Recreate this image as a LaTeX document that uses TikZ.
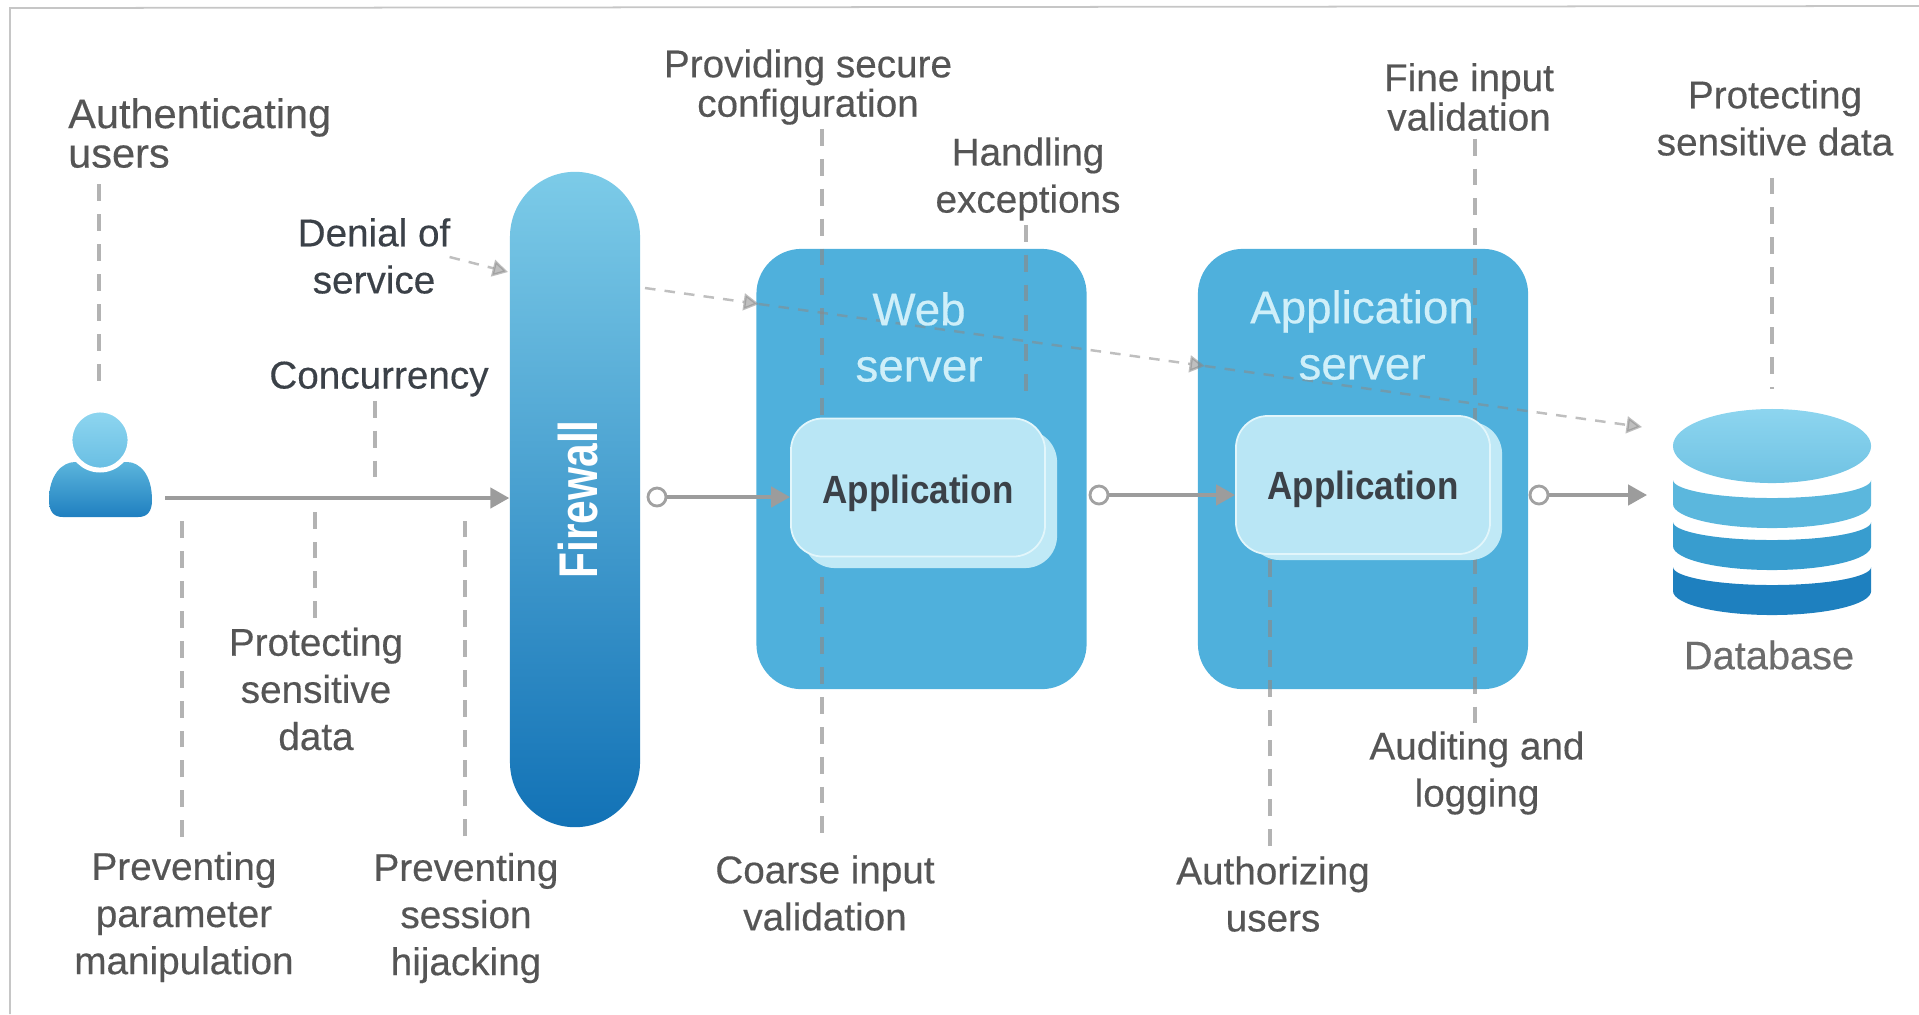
\documentclass[tikz,border=0pt]{standalone}
\usepackage{fontspec}
\setmainfont[FakeBold=.35]{Liberation Sans}
\newfontfamily\fwfont[FakeStretch=.78]{Liberation Sans}
\newfontfamily\appfont[FakeStretch=.89]{Liberation Sans}
\usetikzlibrary{arrows.meta}
\definecolor{textgray}{HTML}{555555}
\definecolor{textdark}{HTML}{3B4148}
\definecolor{srvblue}{HTML}{4FB0DC}
\definecolor{guidegray}{HTML}{8A8A8A}
\tikzset{
lbl/.style={align=center,inner sep=1pt,text=textgray,font=\fontsize{11}{11.2}\selectfont},
lblwide/.style={lbl,font=\fontsize{11}{13.4}\selectfont},
lbldark/.style={text=textdark},
srvbox/.style={fill=srvblue,rounded corners=.45cm,minimum width=3.3cm,minimum height=4.4cm,inner sep=0},
srvname/.style={align=center,text={rgb,255:red,207;green,239;blue,249},font=\fontsize{13}{16}\selectfont},
appback/.style={fill={rgb,255:red,192;green,233;blue,246},rounded corners=.32cm,minimum width=2.54cm,minimum height=1.38cm,inner sep=0},
appbox/.style={appback,fill={rgb,255:red,185;green,230;blue,245},draw={rgb,255:red,226;green,246;blue,251},line width=.5pt,text=textdark,font=\appfont\fontsize{11.2}{13}\selectfont\bfseries},
port/.style={circle,draw=guidegray!80,fill=white,line width=.8pt,minimum size=.18cm,inner sep=0},
flow/.style={draw=guidegray!85,line width=1pt,-{Triangle[length=5.4pt,width=5.8pt]}},
guide/.style={draw=guidegray,opacity=.65,line width=.9pt,dash pattern=on 4.8pt off 3.7pt},
attack/.style={draw=guidegray,opacity=.55,line width=.7pt,dash pattern=on 3pt off 2.6pt,-{Triangle[length=4.4pt,width=4.8pt]}}
}
\begin{document}
\begin{tikzpicture}[x=.01cm,y=-.01cm]
\useasboundingbox (0,0) rectangle (1919,1014);
\draw[gray!45,line width=.5pt] (10,1014) -- (10,8) -- (1919,6);
\shade[top color={rgb,255:red,91;green,181;blue,220},bottom color={rgb,255:red,31;green,127;blue,192}]
(49,500) .. controls (49,475) and (62,462) .. (75,462) -- (127,462) .. controls (140,462) and (152,475) .. (152,500)
.. controls (152,512) and (147,517) .. (138,517) -- (63,517) .. controls (54,517) and (49,512) .. (49,500) -- cycle;
\node[circle,draw=white,line width=1.4pt,top color={rgb,255:red,143;green,214;blue,240},bottom color={rgb,255:red,104;green,190;blue,227},minimum size=.6cm,inner sep=0] (userhead) at (100,440) {};
\node[rounded corners=.65cm,minimum width=1.3cm,minimum height=6.55cm,inner sep=0,top color={rgb,255:red,124;green,203;blue,232},middle color={rgb,255:red,85;green,176;blue,218},bottom color={rgb,255:red,18;green,114;blue,182}] (firewall) at (575,499.5) {};
\node[srvbox] (websrv) at (921.5,469) {};
\node[srvbox] (appsrv) at (1363,469) {};
\foreach \ytop/\rr/\gg/\bb in {480/91/183/221,522/56/157/207,567/30/128/191}{
\fill[fill={rgb,255:red,\rr;green,\gg;blue,\bb}] (1673,\ytop) arc[start angle=180,end angle=360,x radius=.99cm,y radius=.18cm] -- ++(0,24) arc[start angle=0,end angle=-180,x radius=.99cm,y radius=.24cm] -- cycle;
}
\shade[top color={rgb,255:red,141;green,213;blue,239},bottom color={rgb,255:red,111;green,194;blue,227}] (1772,446) ellipse[x radius=.99cm,y radius=.37cm];
\node[lbl,anchor=west,align=left,font=\fontsize{11.8}{11.2}\selectfont] (authlbl) at (64,133) {Authenticating\\users};
\node[lbl] (provlbl) at (808,87) {Providing secure\\configuration};
\node[lblwide] (hndlbl) at (1028,179) {Handling\\exceptions};
\node[lbl] (finelbl) at (1469,97) {Fine input\\validation};
\node[lblwide] (protdblbl) at (1775,118) {Protecting\\sensitive data};
\node[lblwide,lbldark] (doslbl) at (374,256) {Denial of\\service};
\node[lbl,lbldark] (conclbl) at (379,379) {Concurrency};
\node[lblwide] (protlbl) at (316,689) {Protecting\\sensitive\\data};
\node[lblwide] (paramlbl) at (184,917) {Preventing\\parameter\\manipulation};
\node[lblwide] (sesslbl) at (466,918) {Preventing\\session\\hijacking};
\node[lblwide] (coarselbl) at (825,893) {Coarse input\\validation};
\node[lblwide] (authzlbl) at (1273,894) {Authorizing\\users};
\node[lblwide] (auditlbl) at (1477,773) {Auditing and\\logging};
\node[lbl,text=gray!85!black,font=\fontsize{11.3}{13}\selectfont] (dblbl) at (1769,655) {Database};
\coordinate (userup) at (99,392);
\coordinate (userout) at (165,498);
\coordinate (concend) at (375,490);
\coordinate (protend) at (315,504);
\coordinate (paramend) at (182,512);
\coordinate (sessend) at (465,509);
\coordinate (provend) at (822,845);
\coordinate (hndend) at (1026,404);
\coordinate (authzend) at (1270,550);
\coordinate (fineend) at (1475,728);
\coordinate (dbup) at (1772,389);
\coordinate (dosin) at (508,272);
\coordinate (fwout) at (645,288);
\coordinate (webin) at (759,304);
\coordinate (appin) at (1205,366);
\coordinate (dbin) at (1642,427);
\coordinate (dbport) at (1647,495);
\draw[guide,shorten <=3.5pt] (authlbl.south -| userup) -- (userup);
\draw[guide] (conclbl.south -| concend) -- (concend);
\draw[guide,shorten <=1.5pt] (protlbl.north -| protend) -- (protend);
\draw[guide,shorten <=3pt] (paramlbl.north -| paramend) -- (paramend);
\draw[guide,shorten <=3.5pt] (sesslbl.north -| sessend) -- (sessend);
\draw[guide] (provlbl.south -| provend) -- (provend);
\draw[guide] (hndlbl.south -| hndend) -- (hndend);
\draw[guide,shorten <=1.7pt] (authzlbl.north -| authzend) -- (authzend);
\draw[guide,shorten <=1pt] (finelbl.south -| fineend) -- (fineend);
\draw[guide,shorten <=5pt] (protdblbl.south -| dbup) -- (dbup);
\draw[attack] (dosin -| doslbl.east) ++(-5,-15) -- (dosin);
\draw[attack] (fwout) -- (webin);
\draw[attack] (webin) -- (appin);
\draw[attack] (appin) -- (dbin);
\node[appback] (webback) at (930,499) {};
\node[appbox] (webapp) at (918,487.5) {\rule{0pt}{11.6pt}Application};
\node[appback] (appback2) at (1375,491) {};
\node[appbox] (appapp) at (1363,485) {\rule{0pt}{10.3pt}Application};
\node[srvname] (webname) at (919,337) {Web\\server};
\node[srvname] (appname) at (1362,335) {Application\\server};
\node[rotate=90,text=white,font=\fwfont\fontsize{15.5}{16}\selectfont\bfseries] (fwlbl) at (578,499.5) {Firewall};
\node[port] (fwport) at (657,497) {};
\node[port] (webport) at (1099,495) {};
\node[port] (appport) at (1539,495) {};
\draw[flow] (userout) -- (firewall.west |- userout);
\draw[flow] (fwport) -- (webapp.west |- fwport);
\draw[flow] (webport) -- (appapp.west |- webport);
\draw[flow] (appport) -- (dbport);
\end{tikzpicture}
\end{document}
